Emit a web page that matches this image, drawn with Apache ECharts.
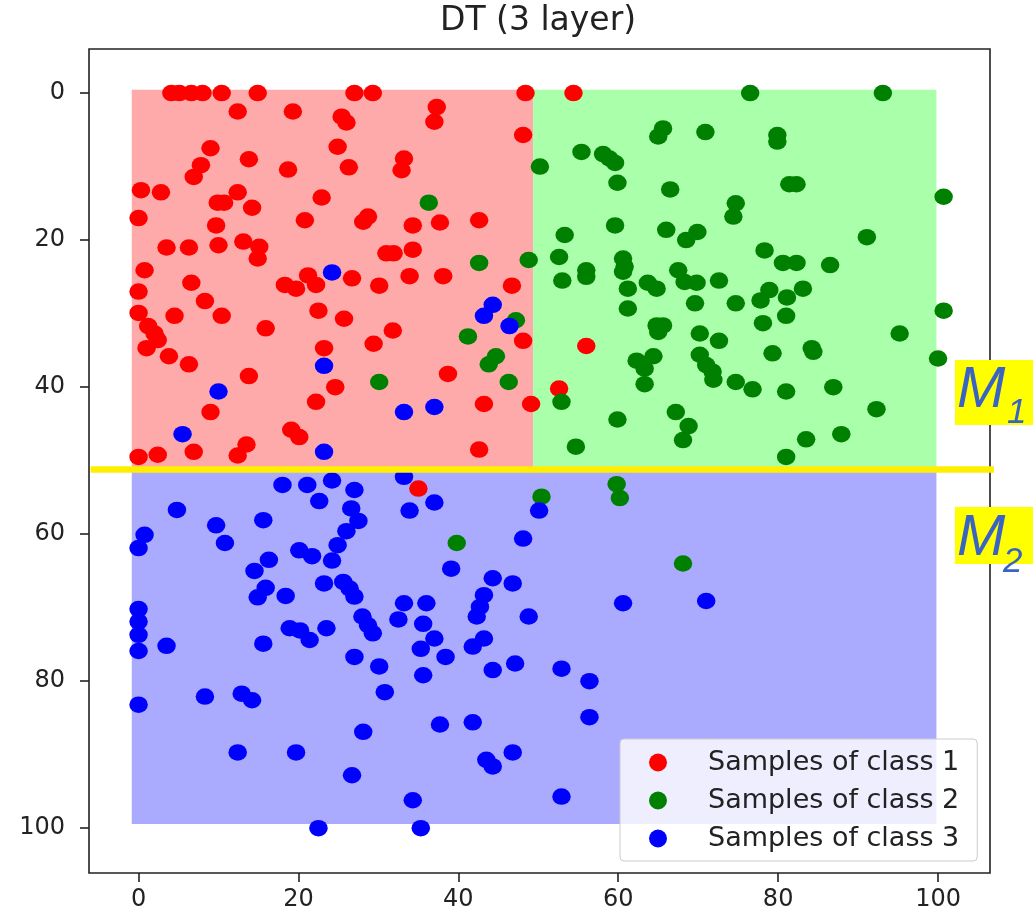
<!DOCTYPE html>
<html><head><meta charset="utf-8">
<script src="https://cdn.jsdelivr.net/npm/echarts@6/dist/echarts.min.js"></script>
<style>html,body{margin:0;padding:0;background:#fff}#c{width:1033px;height:913px}</style>
</head><body><div id="c"></div>
<script>
const titleText = 'DT (3 layer)';
const classNames = ['Samples of class 1', 'Samples of class 2', 'Samples of class 3'];
const classColors = ['#ff0000', '#008000', '#0000ff'];
const regionColors = ['#ffaaaa', '#aaffaa', '#aaaaff'];
const xTicks = [0, 20, 40, 60, 80, 100];
const yTicks = [0, 20, 40, 60, 80, 100];
const xRange = [-6.2, 106.5];
const yRange = [-6.0, 106.1];

// decision regions: [x0, y0, x1, y1, classIndex]
const regions = [
  [-0.85, -0.45, 49.35, 51.2, 0],
  [49.35, -0.45, 99.8, 51.2, 1],
  [-0.85, 51.2, 99.8, 99.45, 2]
];
const splitY = 51.2;
const splitXExtent = [-6.0, 109.6];
const annotations = ['M', '1', 'M', '2'];

const class1 = [
  [4.1,0],[5.1,0],[6.6,0],[8.0,0],[10.4,0],[14.9,0],[27.0,0],[29.3,0],[48.4,0],[54.4,0],
  [12.4,2.5],[19.3,2.5],[25.4,3.2],[26.0,4.0],[37.3,1.9],[37.0,3.9],[48.1,5.7],
  [24.9,7.3],[9.0,7.5],[7.8,9.8],[6.9,11.4],[13.8,9.0],[18.7,10.4],[26.3,10.1],[33.2,8.9],[32.9,10.5],
  [0.3,13.2],[2.8,13.5],[12.4,13.5],[9.9,14.9],[10.7,14.9],[14.2,15.6],[22.9,14.2],[0.0,17.0],[20.8,17.3],[28.1,17.5],[28.7,16.8],[34.3,18.0],[37.7,17.6],[42.6,17.3],[9.7,18.0],
  [3.5,21.0],[6.3,21.0],[10.0,20.7],[13.1,20.2],[15.1,20.9],[14.9,22.5],[31.0,21.8],[31.9,21.8],[34.3,21.3],
  [0.75,24.1],[0.0,27.0],[6.6,25.8],[8.3,28.3],[0.0,29.9],[1.2,31.7],[2.0,32.7],[2.4,33.6],[1.0,34.7],[4.5,30.3],[10.4,30.3],[15.9,32.0],[3.8,35.8],[6.3,36.9],
  [18.3,26.1],[19.7,26.6],[21.2,24.8],[22.2,26.1],[26.7,25.2],[30.1,26.2],[33.9,24.9],[38.1,24.9],[46.7,26.2],
  [22.5,29.6],[25.7,30.7],[31.8,32.3],[29.4,34.1],[48.1,33.7],[23.2,34.7],[13.8,38.5],[38.7,38.2],[24.6,40.0],[22.2,42.0],[9.0,43.4],[43.2,42.3],[49.1,42.3],
  [19.1,45.8],[20.1,46.8],[0.0,49.5],[2.4,49.2],[6.9,48.8],[12.4,49.3],[13.5,47.8],[42.6,48.5],
  [56.0,34.4],[52.6,40.2],[35.0,53.8]
];
const class2 = [
  [76.5,0],[93.1,0],[65.6,4.8],[65.0,5.9],[70.9,5.3],[79.9,5.7],[79.9,6.6],[55.4,8.0],[58.1,8.3],[58.9,8.9],[59.6,9.5],[50.2,10.0],[59.9,12.2],[66.5,13.1],[81.4,12.4],[82.3,12.4],[100.7,14.1],[74.7,15.0],[74.4,16.8],[59.6,18.0],[66.0,18.6],[69.9,18.9],[68.5,20.0],[91.1,19.6],[53.3,19.3],[78.3,21.4],
  [48.8,22.7],[52.6,22.3],[60.6,22.5],[60.8,23.6],[60.6,24.3],[80.6,23.1],[82.3,23.1],[86.5,23.4],[53.0,25.5],[56.0,24.1],[56.0,25.0],[61.2,26.6],[61.2,29.3],[63.7,25.8],[64.8,26.6],[67.5,24.1],[68.3,25.7],[69.8,25.8],[72.6,25.5],[69.6,28.6],[74.7,28.6],[78.9,26.8],[77.8,28.2],[81.1,27.8],[81.0,30.3],[83.1,26.6],[100.7,29.6],
  [64.8,31.6],[65.6,31.6],[65.0,32.5],[78.1,31.3],[70.2,32.7],[72.6,33.7],[95.2,32.7],[79.3,35.4],[84.2,34.7],[84.4,35.2],[100.0,36.1],[62.3,36.4],[64.4,35.8],[63.3,37.5],[63.3,39.6],[70.2,35.6],[71.0,37.0],[71.8,37.9],[71.9,39.0],[74.7,39.3],[76.8,40.3],[81.0,40.6],[86.9,40.0],[52.9,42.0],[92.3,43.0],[59.9,44.4],[67.2,43.4],[68.8,45.3],[68.1,47.2],[83.5,47.1],[87.9,46.4],[54.7,48.1],[81.0,49.5],
  [36.3,14.9],[42.6,23.1],[47.2,30.9],[41.2,33.1],[44.7,35.8],[43.8,36.9],[30.1,39.3],[46.3,39.3],
  [50.4,54.9],[59.8,53.2],[60.2,55.1],[39.8,61.2],[68.1,64.0]
];
const class3 = [
  [24.2,24.4],[44.3,28.8],[43.2,30.3],[46.4,31.7],[23.2,37.1],[10.0,40.6],[33.2,43.4],[37.0,42.7],[5.5,46.4],[23.2,48.8],
  [18.0,53.3],[21.1,53.3],[24.2,52.7],[27.0,54.0],[22.6,55.5],[33.2,52.2],[37.0,55.7],[33.9,56.8],[50.1,56.8],[4.8,56.7],[26.6,56.5],[27.5,58.2],[26.0,59.6],[24.9,61.5],[24.2,63.6],[20.1,62.2],[21.7,63.0],[15.6,58.1],[9.7,58.8],[10.8,61.2],[0.75,60.1],[0.0,61.9],[16.3,63.5],[14.5,65.0],[48.1,60.6],[39.1,64.7],
  [15.9,67.3],[14.9,68.6],[18.4,68.4],[23.2,66.7],[25.6,66.5],[26.4,67.4],[27.0,68.5],[44.3,66.0],[46.8,66.7],[43.2,68.3],[42.7,69.9],[42.3,71.2],[48.8,71.2],[33.2,69.4],[32.5,71.6],[36.0,69.4],[35.6,72.2],[28.0,71.2],[28.7,72.4],[29.3,73.5],
  [0.0,70.2],[0.0,71.9],[0.0,73.7],[0.0,75.9],[3.5,75.2],[15.6,74.9],[18.9,72.8],[20.2,73.1],[21.4,74.4],[23.5,72.8],[37.0,74.2],[35.3,75.6],[38.4,76.7],[43.2,74.2],[41.8,75.3],[27.0,76.7],[30.1,78.0],[35.6,79.2],[44.3,78.5],[47.1,77.6],
  [60.6,69.4],[71.0,69.1],[52.9,78.3],[56.4,80.0],[0.0,83.2],[8.3,82.1],[12.9,81.7],[14.2,82.6],[30.8,81.5],[28.1,86.9],[37.7,85.9],[41.8,85.6],[12.4,89.7],[19.7,89.7],[26.7,92.8],[43.5,90.7],[44.3,91.6],[46.8,89.7],[34.3,96.2],[22.5,100],[35.3,100],[56.4,84.9],[52.9,95.7]
];
const classData = [class1, class2, class3];

const chart = echarts.init(document.getElementById('c'), null, {renderer: 'canvas'});
const FONT = 'DejaVu Sans';
const TXT = '#222';

const scatterSeries = classData.map((d, i) => ({
  name: classNames[i],
  type: 'scatter',
  data: d,
  symbol: 'circle',
  symbolSize: [18.5, 16.5],
  itemStyle: {color: classColors[i], opacity: 1},
  z: 3 + i,
  silent: true,
  animation: false
}));

const option = {
  animation: false,
  backgroundColor: '#fff',
  title: {
    text: titleText, left: 440, top: 5, padding: 0,
    textStyle: {fontFamily: FONT, fontSize: 33, fontWeight: 'normal', color: TXT}
  },
  grid: {left: 89, right: 43, top: 49, bottom: 40, show: true, borderColor: '#222', borderWidth: 1.6, backgroundColor: '#fff'},
  xAxis: {
    type: 'value', min: xRange[0], max: xRange[1], position: 'bottom',
    axisLine: {show: false, onZero: false},
    axisTick: {show: true, inside: false, length: 9, lineStyle: {color: '#222', width: 1.6}, customValues: xTicks},
    axisLabel: {fontFamily: FONT, fontSize: 24, color: TXT, margin: 15, customValues: xTicks},
    splitLine: {show: false}
  },
  yAxis: {
    type: 'value', min: yRange[0], max: yRange[1], inverse: true, position: 'left',
    axisLine: {show: false, onZero: false},
    axisTick: {show: true, inside: false, length: 9, lineStyle: {color: '#222', width: 1.6}, customValues: yTicks},
    axisLabel: {fontFamily: FONT, fontSize: 24, color: TXT, margin: 24, customValues: yTicks},
    splitLine: {show: false}
  },
  legend: {
    data: classNames, orient: 'vertical', left: 620, top: 739,
    padding: [10, 18, 9, 29], itemGap: 11, itemWidth: 18, itemHeight: 18, icon: 'circle',
    backgroundColor: 'rgba(255,255,255,0.8)', borderColor: '#cccccc', borderWidth: 1, borderRadius: 4,
    textStyle: {fontFamily: FONT, fontSize: 27, color: TXT, padding: [0, 0, 0, 36]},
    selectedMode: false, z: 20
  },
  series: [
    {
      type: 'custom', name: 'regions', data: regions, z: 1, silent: true,
      encode: {x: [0, 2], y: [1, 3]},
      renderItem: function (params, api) {
        const p0 = api.coord([api.value(0), api.value(1)]);
        const p1 = api.coord([api.value(2), api.value(3)]);
        return {
          type: 'rect',
          shape: {x: Math.min(p0[0], p1[0]), y: Math.min(p0[1], p1[1]), width: Math.abs(p1[0] - p0[0]), height: Math.abs(p1[1] - p0[1])},
          style: {fill: regionColors[api.value(4)]}
        };
      }
    },
    ...scatterSeries,
    {
      type: 'line', name: 'split', data: [[splitXExtent[0], splitY], [splitXExtent[1], splitY]],
      clip: false, symbol: 'none', silent: true, z: 10,
      lineStyle: {color: '#ffee00', width: 6.5}
    }
  ],
  graphic: [
    {type: 'rect', x: 955, y: 360, shape: {width: 78, height: 65}, style: {fill: '#ffff00'}, z: 30},
    {type: 'text', x: 957, y: 391, z: 31, style: {text: annotations[0], fontFamily: 'Liberation Sans', fontStyle: 'italic', fontSize: 58, fill: '#3a64c4', verticalAlign: 'middle', align: 'left'}},
    {type: 'text', x: 1007, y: 413, z: 31, style: {text: annotations[1], fontFamily: 'Liberation Sans', fontStyle: 'italic', fontSize: 35, fill: '#3a64c4', verticalAlign: 'middle', align: 'left'}},
    {type: 'rect', x: 955, y: 507, shape: {width: 78, height: 57}, style: {fill: '#ffff00'}, z: 30},
    {type: 'text', x: 957, y: 539, z: 31, style: {text: annotations[2], fontFamily: 'Liberation Sans', fontStyle: 'italic', fontSize: 58, fill: '#3a64c4', verticalAlign: 'middle', align: 'left'}},
    {type: 'text', x: 1003, y: 562, z: 31, style: {text: annotations[3], fontFamily: 'Liberation Sans', fontStyle: 'italic', fontSize: 35, fill: '#3a64c4', verticalAlign: 'middle', align: 'left'}}
  ]
};
chart.setOption(option);
</script>
</body></html>
